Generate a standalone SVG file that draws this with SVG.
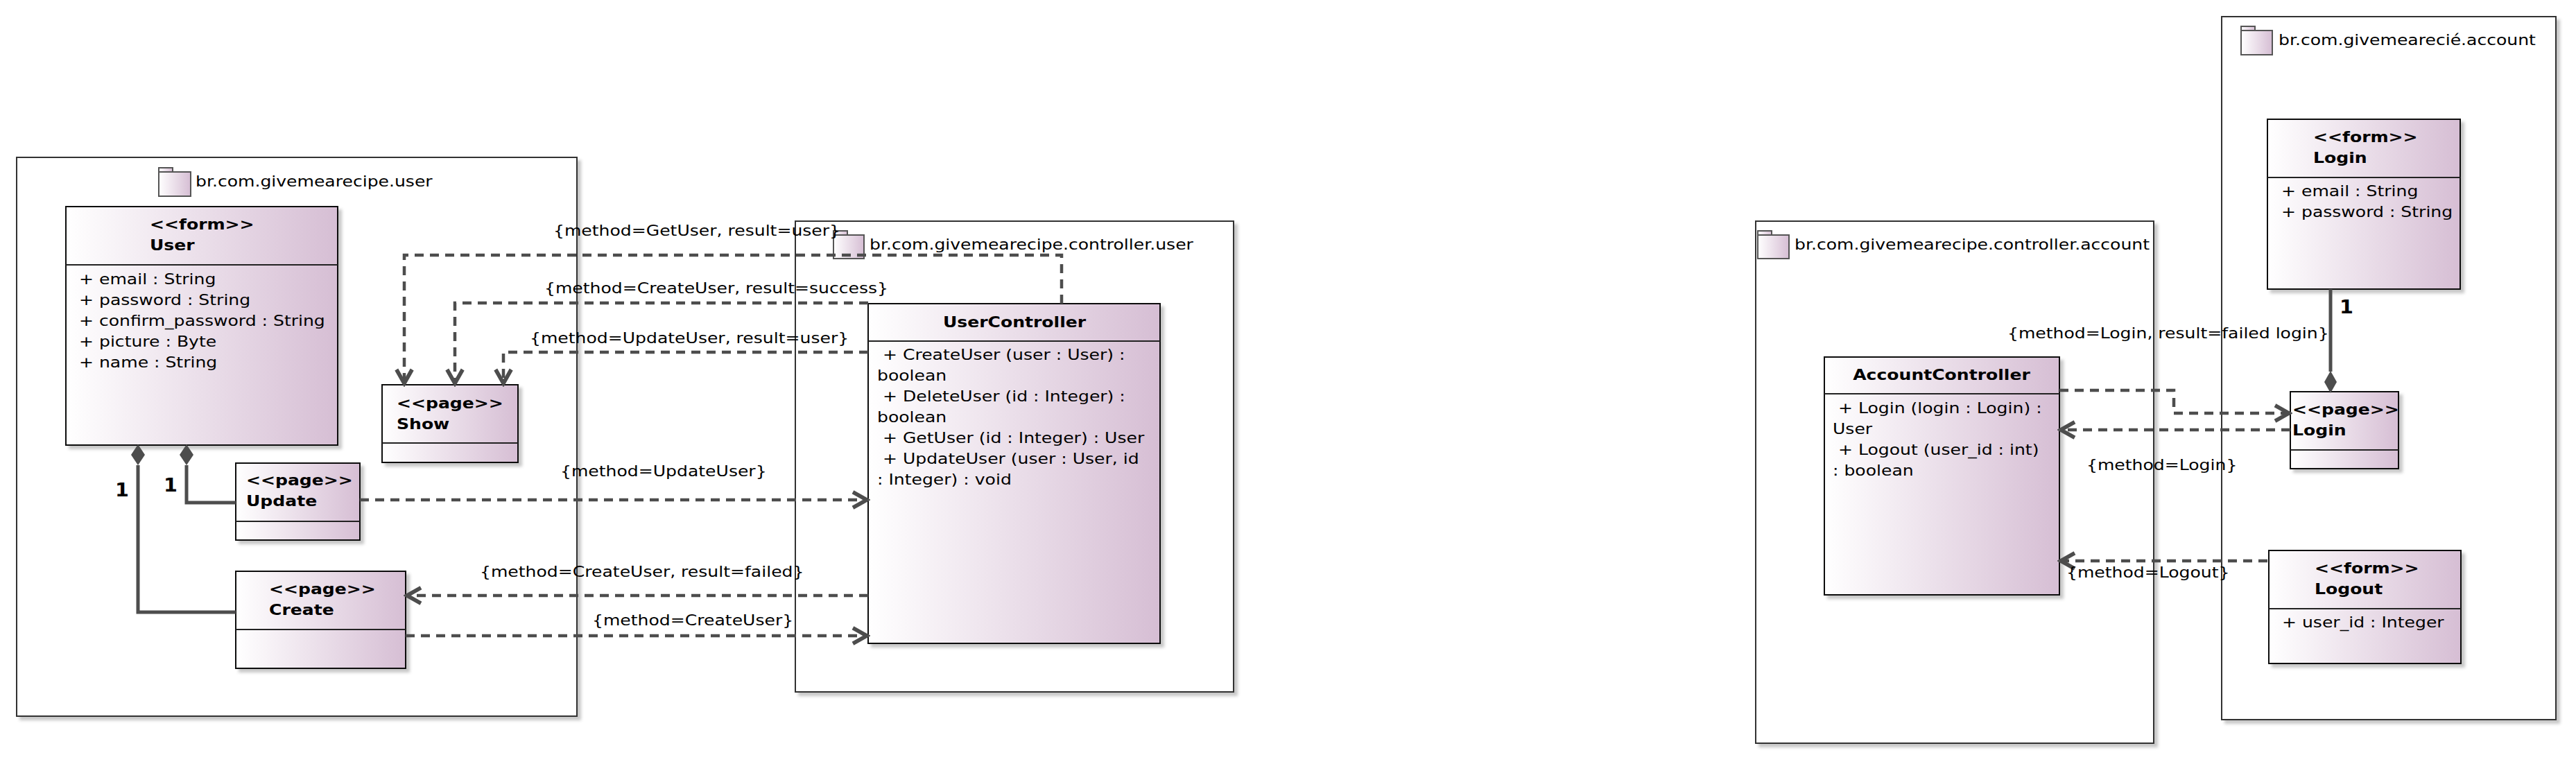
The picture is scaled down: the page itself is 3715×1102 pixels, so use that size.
<svg xmlns="http://www.w3.org/2000/svg" width="3715" height="1102" viewBox="0 0 3715 1102">
<style>
.t{font-family:"DejaVu Sans","Liberation Sans",sans-serif;font-size:22px;fill:#000}
.b{font-family:"DejaVu Sans","Liberation Sans",sans-serif;font-size:22px;font-weight:bold;fill:#000}
.m{font-family:"DejaVu Sans","Liberation Sans",sans-serif;font-size:26px;font-weight:bold;fill:#000}
.pkg{fill:#fff;stroke:#333;stroke-width:2;filter:url(#sh)}
.box{fill:url(#gr);stroke:#111;stroke-width:2;filter:url(#sh)}
.sep{stroke:#222;stroke-width:2}
.ico{fill:url(#gr);stroke:#555;stroke-width:2}
.dep{fill:none;stroke:#4d4d4d;stroke-width:4.5;stroke-dasharray:13 9}
.cmp{fill:none;stroke:#4d4d4d;stroke-width:5}
.dia{fill:#4d4d4d}
</style>
<defs>
<linearGradient id="gr" x1="0" y1="0" x2="1" y2="0">
<stop offset="0" stop-color="#ffffff"/>
<stop offset="1" stop-color="#d6bed4"/>
</linearGradient>
<filter id="sh" x="-5%" y="-5%" width="115%" height="115%">
<feDropShadow dx="5" dy="5" stdDeviation="2" flood-color="#000" flood-opacity="0.22"/>
</filter>
<marker id="ar" markerUnits="userSpaceOnUse" markerWidth="30" markerHeight="30" viewBox="-20 -12 24 24" refX="0" refY="0" orient="auto">
<path d="M-16,-9 L0,0 L-16,9" fill="none" stroke="#4d4d4d" stroke-width="4.5"/>
</marker>
</defs>

<g id="pkg-user">
<rect class="pkg" x="24" y="227" width="808" height="806"/>
<rect class="ico" x="229" y="242" width="20" height="6"/>
<rect class="ico" x="229" y="248" width="46" height="35"/>
<text class="t" transform="translate(282 269) scale(1.14 1)">br.com.givemearecipe.user</text>
</g>
<g id="pkg-controller-user">
<rect class="pkg" x="1147" y="319" width="632" height="679"/>
<rect class="ico" x="1202" y="333" width="20" height="6"/>
<rect class="ico" x="1202" y="339" width="44" height="34"/>
<text class="t" transform="translate(1254 360) scale(1.14 1)">br.com.givemearecipe.controller.user</text>
</g>
<g id="pkg-controller-account">
<rect class="pkg" x="2532" y="319" width="574" height="753"/>
<rect class="ico" x="2535" y="333" width="20" height="6"/>
<rect class="ico" x="2535" y="339" width="45" height="34"/>
<text class="t" transform="translate(2588 360) scale(1.14 1)">br.com.givemearecipe.controller.account</text>
</g>
<g id="pkg-account">
<rect class="pkg" x="3204" y="24" width="482" height="1014"/>
<rect class="ico" x="3232" y="38" width="20" height="6"/>
<rect class="ico" x="3232" y="44" width="45" height="35"/>
<text class="t" transform="translate(3286 65) scale(1.14 1)">br.com.givemearecié.account</text>
</g>

<g id="User">
<rect class="box" x="95" y="298" width="392" height="344"/>
<line class="sep" x1="95" y1="382" x2="487" y2="382"/>
<text class="b" transform="translate(216 331) scale(1.14 1)"><tspan x="0">&lt;&lt;form&gt;&gt;</tspan><tspan x="0" dy="30">User</tspan></text>
<text class="t" transform="translate(114 410) scale(1.14 1)"><tspan x="0">+ email : String</tspan><tspan x="0" dy="30">+ password : String</tspan><tspan x="0" dy="30">+ confirm_password : String</tspan><tspan x="0" dy="30">+ picture : Byte</tspan><tspan x="0" dy="30">+ name : String</tspan></text>
</g>
<g id="Show">
<rect class="box" x="551" y="555" width="196" height="112"/>
<line class="sep" x1="551" y1="639" x2="747" y2="639"/>
<text class="b" transform="translate(572 589) scale(1.14 1)"><tspan x="0">&lt;&lt;page&gt;&gt;</tspan><tspan x="0" dy="30">Show</tspan></text>
</g>
<g id="Update">
<rect class="box" x="340" y="668" width="179" height="111"/>
<line class="sep" x1="340" y1="752" x2="519" y2="752"/>
<text class="b" transform="translate(355 700) scale(1.14 1)"><tspan x="0">&lt;&lt;page&gt;&gt;</tspan><tspan x="0" dy="30">Update</tspan></text>
</g>
<g id="Create">
<rect class="box" x="340" y="824" width="245" height="140"/>
<line class="sep" x1="340" y1="908" x2="585" y2="908"/>
<text class="b" transform="translate(388 857) scale(1.14 1)"><tspan x="0">&lt;&lt;page&gt;&gt;</tspan><tspan x="0" dy="30">Create</tspan></text>
</g>
<g id="UserController">
<rect class="box" x="1252" y="438" width="421" height="490"/>
<line class="sep" x1="1252" y1="492" x2="1673" y2="492"/>
<text class="b" text-anchor="middle" transform="translate(1463 472) scale(1.14 1)">UserController</text>
<text class="t" transform="translate(1265 519) scale(1.14 1)"><tspan x="0">&#160;+ CreateUser (user : User) :</tspan><tspan x="0" dy="30">boolean</tspan><tspan x="0" dy="30">&#160;+ DeleteUser (id : Integer) :</tspan><tspan x="0" dy="30">boolean</tspan><tspan x="0" dy="30">&#160;+ GetUser (id : Integer) : User</tspan><tspan x="0" dy="30">&#160;+ UpdateUser (user : User, id</tspan><tspan x="0" dy="30">: Integer) : void</tspan></text>
</g>
<g id="AccountController">
<rect class="box" x="2631" y="515" width="339" height="343"/>
<line class="sep" x1="2631" y1="568" x2="2970" y2="568"/>
<text class="b" text-anchor="middle" transform="translate(2800 548) scale(1.14 1)">AccountController</text>
<text class="t" transform="translate(2643 596) scale(1.14 1)"><tspan x="0">&#160;+ Login (login : Login) :</tspan><tspan x="0" dy="30">User</tspan><tspan x="0" dy="30">&#160;+ Logout (user_id : int)</tspan><tspan x="0" dy="30">: boolean</tspan></text>
</g>
<g id="LoginForm">
<rect class="box" x="3270" y="172" width="278" height="245"/>
<line class="sep" x1="3270" y1="256" x2="3548" y2="256"/>
<text class="b" transform="translate(3336 205) scale(1.14 1)"><tspan x="0">&lt;&lt;form&gt;&gt;</tspan><tspan x="0" dy="30">Login</tspan></text>
<text class="t" transform="translate(3290 283) scale(1.14 1)"><tspan x="0">+ email : String</tspan><tspan x="0" dy="30">+ password : String</tspan></text>
</g>
<g id="LoginPage">
<rect class="box" x="3303" y="565" width="156" height="111"/>
<line class="sep" x1="3303" y1="649" x2="3459" y2="649"/>
<text class="b" transform="translate(3306 598) scale(1.14 1)"><tspan x="0">&lt;&lt;page&gt;&gt;</tspan><tspan x="0" dy="30">Login</tspan></text>
</g>
<g id="Logout">
<rect class="box" x="3272" y="794" width="277" height="163"/>
<line class="sep" x1="3272" y1="878" x2="3549" y2="878"/>
<text class="b" transform="translate(3338 827) scale(1.14 1)"><tspan x="0">&lt;&lt;form&gt;&gt;</tspan><tspan x="0" dy="30">Logout</tspan></text>
<text class="t" transform="translate(3291 905) scale(1.14 1)">+ user_id : Integer</text>
</g>

<g id="connectors">
<polyline class="dep" points="1531,438 1531,368 583,368 583,553" marker-end="url(#ar)"/>
<polyline class="dep" points="1252,437 656,437 656,553" marker-end="url(#ar)"/>
<polyline class="dep" points="1252,508 726,508 726,553" marker-end="url(#ar)"/>
<line class="dep" x1="519" y1="721" x2="1250" y2="721" marker-end="url(#ar)"/>
<line class="dep" x1="1252" y1="859" x2="587" y2="859" marker-end="url(#ar)"/>
<line class="dep" x1="585" y1="917" x2="1250" y2="917" marker-end="url(#ar)"/>
<polyline class="dep" points="2970,563 3135,563 3135,596 3301,596" marker-end="url(#ar)"/>
<line class="dep" x1="3303" y1="620" x2="2972" y2="620" marker-end="url(#ar)"/>
<line class="dep" x1="3270" y1="809" x2="2972" y2="809" marker-end="url(#ar)"/>
<polyline class="cmp" points="199,671 199,883 340,883"/>
<polygon class="dia" points="199,641 209,656 199,671 189,656"/>
<polyline class="cmp" points="269,671 269,725 340,725"/>
<polygon class="dia" points="269,641 279,656 269,671 259,656"/>
<line class="cmp" x1="3361" y1="417" x2="3361" y2="536"/>
<polygon class="dia" points="3361,567 3370,551 3361,535 3352,551"/>
<text class="t" transform="translate(798 340) scale(1.14 1)">{method=GetUser, result=user}</text>
<text class="t" transform="translate(785 423) scale(1.14 1)">{method=CreateUser, result=success}</text>
<text class="t" transform="translate(764 495) scale(1.14 1)">{method=UpdateUser, result=user}</text>
<text class="t" transform="translate(808 687) scale(1.14 1)">{method=UpdateUser}</text>
<text class="t" transform="translate(692 832) scale(1.14 1)">{method=CreateUser, result=failed}</text>
<text class="t" transform="translate(854 902) scale(1.14 1)">{method=CreateUser}</text>
<text class="t" transform="translate(2895 488) scale(1.14 1)">{method=Login, result=failed login}</text>
<text class="t" transform="translate(3009 678) scale(1.14 1)">{method=Login}</text>
<text class="t" transform="translate(2980 833) scale(1.14 1)">{method=Logout}</text>
<text class="m" transform="translate(166 716) scale(1.1 1)">1</text>
<text class="m" transform="translate(236 709) scale(1.1 1)">1</text>
<text class="m" transform="translate(3374 452) scale(1.1 1)">1</text>
</g>
</svg>
